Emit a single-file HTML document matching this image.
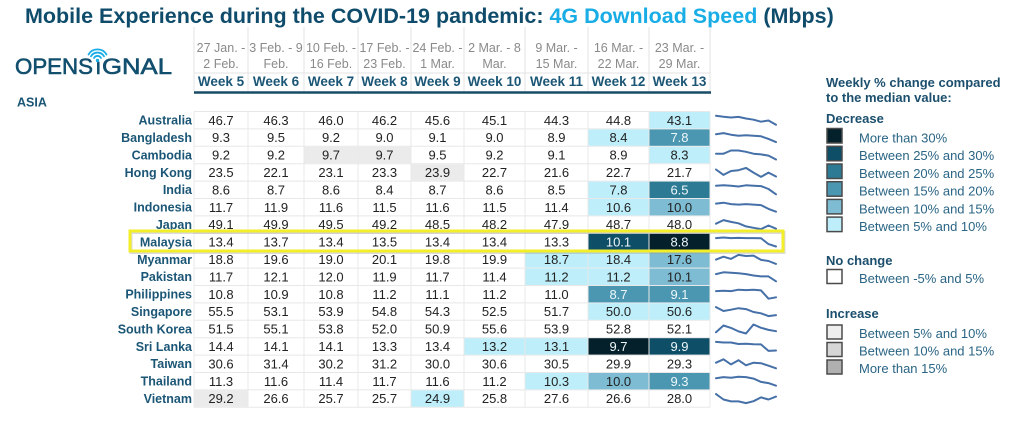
<!DOCTYPE html>
<html><head><meta charset="utf-8">
<style>
html,body{margin:0;padding:0;background:#fff;}
svg{display:block;}
.t{font-family:"Liberation Sans",sans-serif;}
.n{font-family:"Liberation Sans",sans-serif;font-size:13px;text-anchor:middle;fill:#222;}
.w{fill:#eef7fa;}
.c{font-family:"Liberation Sans",sans-serif;font-size:12.5px;font-weight:bold;text-anchor:end;fill:#1b5676;}
.d{font-family:"Liberation Sans",sans-serif;font-size:12.5px;text-anchor:middle;fill:#8a8a8a;}
.wk{font-family:"Liberation Sans",sans-serif;font-size:13.5px;font-weight:bold;text-anchor:middle;fill:#1b5676;}
.lg{font-family:"Liberation Sans",sans-serif;font-size:13px;fill:#2a6585;}
.lh{font-family:"Liberation Sans",sans-serif;font-size:13px;font-weight:bold;fill:#1b4f6d;}
.sp{fill:none;stroke:#4670a8;stroke-width:2;stroke-linejoin:round;stroke-linecap:round;}
.sq{stroke:#4a4a4a;stroke-width:1.5;}
</style></head>
<body>
<svg width="1024" height="421" viewBox="0 0 1024 421" xmlns="http://www.w3.org/2000/svg">
<rect width="1024" height="421" fill="#fff"/>
<!-- Title -->
<text x="25" y="23" class="t" font-size="21.5" font-weight="bold" fill="#0f4c6b">Mobile Experience during the COVID-19 pandemic: <tspan fill="#19ade6">4G Download Speed</tspan> (Mbps)</text>

<!-- Logo -->
<g fill="#124f6e" stroke="#124f6e" stroke-width="0.6">
<text x="15" y="74" class="t" font-size="22" textLength="78" lengthAdjust="spacingAndGlyphs">OPENS</text>
<text x="95.3" y="74" class="t" font-size="22">ı</text>
<text x="102" y="74" class="t" font-size="22" textLength="70" lengthAdjust="spacingAndGlyphs">GNAL</text>
</g>
<g fill="none" stroke="#19ade6" stroke-width="1.8" stroke-linecap="round">
<path d="M94.0 58.0 A4 4 0 0 1 101.0 58.0"/>
<path d="M91.0 56.3 A7.5 7.5 0 0 1 104.0 56.3"/>
<path d="M88.5 54.5 A10.5 10.5 0 0 1 106.5 54.5"/>
</g>
<circle cx="97.5" cy="60.5" r="1.7" fill="#19ade6"/>

<text x="17" y="106.5" class="t" font-size="12.5" font-weight="bold" fill="#1b5676">ASIA</text>

<!-- Header grid -->
<g stroke="#e3e3e3" stroke-width="1">
<line x1="194" y1="27" x2="194" y2="91"/>
<line x1="248" y1="27" x2="248" y2="91"/>
<line x1="304" y1="27" x2="304" y2="91"/>
<line x1="358" y1="27" x2="358" y2="91"/>
<line x1="411" y1="27" x2="411" y2="91"/>
<line x1="464" y1="27" x2="464" y2="91"/>
<line x1="525" y1="27" x2="525" y2="91"/>
<line x1="588" y1="27" x2="588" y2="91"/>
<line x1="649" y1="27" x2="649" y2="91"/>
<line x1="710" y1="27" x2="710" y2="91"/>
<line x1="194" y1="73" x2="710" y2="73"/>
</g>
<line x1="194" y1="92.5" x2="711" y2="92.5" stroke="#184b66" stroke-width="2.5"/>

<!-- Dates -->
<text x="221" y="52" class="d">27 Jan. -</text><text x="221" y="68" class="d">2 Feb.</text>
<text x="276" y="52" class="d">3 Feb. - 9</text><text x="276" y="68" class="d">Feb.</text>
<text x="331" y="52" class="d">10 Feb. -</text><text x="331" y="68" class="d">16 Feb.</text>
<text x="384.5" y="52" class="d">17 Feb. -</text><text x="384.5" y="68" class="d">23 Feb.</text>
<text x="437.5" y="52" class="d">24 Feb. -</text><text x="437.5" y="68" class="d">1 Mar.</text>
<text x="494.5" y="52" class="d">2 Mar. - 8</text><text x="494.5" y="68" class="d">Mar.</text>
<text x="556.5" y="52" class="d">9 Mar. -</text><text x="556.5" y="68" class="d">15 Mar.</text>
<text x="618.5" y="52" class="d">16 Mar. -</text><text x="618.5" y="68" class="d">22 Mar.</text>
<text x="679.5" y="52" class="d">23 Mar. -</text><text x="679.5" y="68" class="d">29 Mar.</text>

<text x="221" y="86" class="wk">Week 5</text>
<text x="276" y="86" class="wk">Week 6</text>
<text x="331" y="86" class="wk">Week 7</text>
<text x="384.5" y="86" class="wk">Week 8</text>
<text x="437.5" y="86" class="wk">Week 9</text>
<text x="494.5" y="86" class="wk">Week 10</text>
<text x="556.5" y="86" class="wk">Week 11</text>
<text x="618.5" y="86" class="wk">Week 12</text>
<text x="679.5" y="86" class="wk">Week 13</text>

<!-- Table grid -->
<g stroke="#e8e8e8" stroke-width="1">
<line x1="194" y1="111.5" x2="710" y2="111.5"/>
<line x1="194" y1="128.9" x2="710" y2="128.9"/>
<line x1="194" y1="146.3" x2="710" y2="146.3"/>
<line x1="194" y1="163.7" x2="710" y2="163.7"/>
<line x1="194" y1="181.1" x2="710" y2="181.1"/>
<line x1="194" y1="198.5" x2="710" y2="198.5"/>
<line x1="194" y1="215.9" x2="710" y2="215.9"/>
<line x1="194" y1="233.3" x2="710" y2="233.3"/>
<line x1="194" y1="250.7" x2="710" y2="250.7"/>
<line x1="194" y1="268.1" x2="710" y2="268.1"/>
<line x1="194" y1="285.5" x2="710" y2="285.5"/>
<line x1="194" y1="302.9" x2="710" y2="302.9"/>
<line x1="194" y1="320.3" x2="710" y2="320.3"/>
<line x1="194" y1="337.7" x2="710" y2="337.7"/>
<line x1="194" y1="355.1" x2="710" y2="355.1"/>
<line x1="194" y1="372.5" x2="710" y2="372.5"/>
<line x1="194" y1="389.9" x2="710" y2="389.9"/>
<line x1="194" y1="407.3" x2="710" y2="407.3"/>
<line x1="194" y1="111.5" x2="194" y2="407.3"/>
<line x1="248" y1="111.5" x2="248" y2="407.3"/>
<line x1="304" y1="111.5" x2="304" y2="407.3"/>
<line x1="358" y1="111.5" x2="358" y2="407.3"/>
<line x1="411" y1="111.5" x2="411" y2="407.3"/>
<line x1="464" y1="111.5" x2="464" y2="407.3"/>
<line x1="525" y1="111.5" x2="525" y2="407.3"/>
<line x1="588" y1="111.5" x2="588" y2="407.3"/>
<line x1="649" y1="111.5" x2="649" y2="407.3"/>
<line x1="710" y1="111.5" x2="710" y2="407.3"/>
</g>

<!-- Colored cells -->
<g>
<rect x="649.5" y="112" width="60" height="16.4" fill="#bdeefa"/>
<rect x="588.5" y="129.4" width="60" height="16.4" fill="#bdeefa"/>
<rect x="649.5" y="129.4" width="60" height="16.4" fill="#4b97b1"/>
<rect x="304.5" y="146.8" width="53" height="16.4" fill="#ebebeb"/>
<rect x="358.5" y="146.8" width="52" height="16.4" fill="#ebebeb"/>
<rect x="649.5" y="146.8" width="60" height="16.4" fill="#bdeefa"/>
<rect x="411.5" y="164.2" width="52" height="16.4" fill="#ebebeb"/>
<rect x="588.5" y="181.6" width="60" height="16.4" fill="#bdeefa"/>
<rect x="649.5" y="181.6" width="60" height="16.4" fill="#2c7a93"/>
<rect x="588.5" y="199" width="60" height="16.4" fill="#bdeefa"/>
<rect x="649.5" y="199" width="60" height="16.4" fill="#7dbcd3"/>
<rect x="588.5" y="233.8" width="60" height="16.4" fill="#0e4e67"/>
<rect x="649.5" y="233.8" width="60" height="16.4" fill="#03202b"/>
<rect x="525.5" y="251.2" width="62" height="16.4" fill="#bdeefa"/>
<rect x="588.5" y="251.2" width="60" height="16.4" fill="#bdeefa"/>
<rect x="649.5" y="251.2" width="60" height="16.4" fill="#7dbcd3"/>
<rect x="525.5" y="268.6" width="62" height="16.4" fill="#bdeefa"/>
<rect x="588.5" y="268.6" width="60" height="16.4" fill="#bdeefa"/>
<rect x="649.5" y="268.6" width="60" height="16.4" fill="#7dbcd3"/>
<rect x="588.5" y="286" width="60" height="16.4" fill="#4b97b1"/>
<rect x="649.5" y="286" width="60" height="16.4" fill="#4b97b1"/>
<rect x="588.5" y="303.4" width="60" height="16.4" fill="#bdeefa"/>
<rect x="649.5" y="303.4" width="60" height="16.4" fill="#bdeefa"/>
<rect x="464.5" y="338.2" width="60" height="16.4" fill="#bdeefa"/>
<rect x="525.5" y="338.2" width="62" height="16.4" fill="#bdeefa"/>
<rect x="588.5" y="338.2" width="60" height="16.4" fill="#03202b"/>
<rect x="649.5" y="338.2" width="60" height="16.4" fill="#0e4e67"/>
<rect x="525.5" y="373" width="62" height="16.4" fill="#bdeefa"/>
<rect x="588.5" y="373" width="60" height="16.4" fill="#7dbcd3"/>
<rect x="649.5" y="373" width="60" height="16.4" fill="#4b97b1"/>
<rect x="194.5" y="390.4" width="53" height="16.4" fill="#ebebeb"/>
<rect x="411.5" y="390.4" width="52" height="16.4" fill="#bdeefa"/>
</g>

<!-- Country names -->
<text x="192" y="124.6" class="c">Australia</text>
<text x="192" y="142" class="c">Bangladesh</text>
<text x="192" y="159.4" class="c">Cambodia</text>
<text x="192" y="176.8" class="c">Hong Kong</text>
<text x="192" y="194.2" class="c">India</text>
<text x="192" y="211.6" class="c">Indonesia</text>
<text x="192" y="229" class="c">Japan</text>
<text x="192" y="246.4" class="c">Malaysia</text>
<text x="192" y="263.8" class="c">Myanmar</text>
<text x="192" y="281.2" class="c">Pakistan</text>
<text x="192" y="298.6" class="c">Philippines</text>
<text x="192" y="316" class="c">Singapore</text>
<text x="192" y="333.4" class="c">South Korea</text>
<text x="192" y="350.8" class="c">Sri Lanka</text>
<text x="192" y="368.2" class="c">Taiwan</text>
<text x="192" y="385.6" class="c">Thailand</text>
<text x="192" y="403" class="c">Vietnam</text>

<!-- Numbers -->
<g>
<text x="221" y="124.8" class="n">46.7</text><text x="276" y="124.8" class="n">46.3</text><text x="331" y="124.8" class="n">46.0</text><text x="384.5" y="124.8" class="n">46.2</text><text x="437.5" y="124.8" class="n">45.6</text><text x="494.5" y="124.8" class="n">45.1</text><text x="556.5" y="124.8" class="n">44.3</text><text x="618.5" y="124.8" class="n">44.8</text><text x="679.5" y="124.8" class="n">43.1</text>

<text x="221" y="142.2" class="n">9.3</text><text x="276" y="142.2" class="n">9.5</text><text x="331" y="142.2" class="n">9.2</text><text x="384.5" y="142.2" class="n">9.0</text><text x="437.5" y="142.2" class="n">9.1</text><text x="494.5" y="142.2" class="n">9.0</text><text x="556.5" y="142.2" class="n">8.9</text><text x="618.5" y="142.2" class="n">8.4</text><text x="679.5" y="142.2" class="n w">7.8</text>

<text x="221" y="159.6" class="n">9.2</text><text x="276" y="159.6" class="n">9.2</text><text x="331" y="159.6" class="n">9.7</text><text x="384.5" y="159.6" class="n">9.7</text><text x="437.5" y="159.6" class="n">9.5</text><text x="494.5" y="159.6" class="n">9.2</text><text x="556.5" y="159.6" class="n">9.1</text><text x="618.5" y="159.6" class="n">8.9</text><text x="679.5" y="159.6" class="n">8.3</text>

<text x="221" y="177" class="n">23.5</text><text x="276" y="177" class="n">22.1</text><text x="331" y="177" class="n">23.1</text><text x="384.5" y="177" class="n">23.3</text><text x="437.5" y="177" class="n">23.9</text><text x="494.5" y="177" class="n">22.7</text><text x="556.5" y="177" class="n">21.6</text><text x="618.5" y="177" class="n">22.7</text><text x="679.5" y="177" class="n">21.7</text>

<text x="221" y="194.4" class="n">8.6</text><text x="276" y="194.4" class="n">8.7</text><text x="331" y="194.4" class="n">8.6</text><text x="384.5" y="194.4" class="n">8.4</text><text x="437.5" y="194.4" class="n">8.7</text><text x="494.5" y="194.4" class="n">8.6</text><text x="556.5" y="194.4" class="n">8.5</text><text x="618.5" y="194.4" class="n">7.8</text><text x="679.5" y="194.4" class="n w">6.5</text>

<text x="221" y="211.8" class="n">11.7</text><text x="276" y="211.8" class="n">11.9</text><text x="331" y="211.8" class="n">11.6</text><text x="384.5" y="211.8" class="n">11.5</text><text x="437.5" y="211.8" class="n">11.6</text><text x="494.5" y="211.8" class="n">11.5</text><text x="556.5" y="211.8" class="n">11.4</text><text x="618.5" y="211.8" class="n">10.6</text><text x="679.5" y="211.8" class="n">10.0</text>

<text x="221" y="229.2" class="n">49.1</text><text x="276" y="229.2" class="n">49.9</text><text x="331" y="229.2" class="n">49.5</text><text x="384.5" y="229.2" class="n">49.2</text><text x="437.5" y="229.2" class="n">48.5</text><text x="494.5" y="229.2" class="n">48.2</text><text x="556.5" y="229.2" class="n">47.9</text><text x="618.5" y="229.2" class="n">48.7</text><text x="679.5" y="229.2" class="n">48.0</text>

<text x="221" y="246.6" class="n">13.4</text><text x="276" y="246.6" class="n">13.7</text><text x="331" y="246.6" class="n">13.4</text><text x="384.5" y="246.6" class="n">13.5</text><text x="437.5" y="246.6" class="n">13.4</text><text x="494.5" y="246.6" class="n">13.4</text><text x="556.5" y="246.6" class="n">13.3</text><text x="618.5" y="246.6" class="n w">10.1</text><text x="679.5" y="246.6" class="n w">8.8</text>

<text x="221" y="264" class="n">18.8</text><text x="276" y="264" class="n">19.6</text><text x="331" y="264" class="n">19.0</text><text x="384.5" y="264" class="n">20.1</text><text x="437.5" y="264" class="n">19.8</text><text x="494.5" y="264" class="n">19.9</text><text x="556.5" y="264" class="n">18.7</text><text x="618.5" y="264" class="n">18.4</text><text x="679.5" y="264" class="n">17.6</text>

<text x="221" y="281.4" class="n">11.7</text><text x="276" y="281.4" class="n">12.1</text><text x="331" y="281.4" class="n">12.0</text><text x="384.5" y="281.4" class="n">11.9</text><text x="437.5" y="281.4" class="n">11.7</text><text x="494.5" y="281.4" class="n">11.4</text><text x="556.5" y="281.4" class="n">11.2</text><text x="618.5" y="281.4" class="n">11.2</text><text x="679.5" y="281.4" class="n">10.1</text>

<text x="221" y="298.8" class="n">10.8</text><text x="276" y="298.8" class="n">10.9</text><text x="331" y="298.8" class="n">10.8</text><text x="384.5" y="298.8" class="n">11.2</text><text x="437.5" y="298.8" class="n">11.1</text><text x="494.5" y="298.8" class="n">11.2</text><text x="556.5" y="298.8" class="n">11.0</text><text x="618.5" y="298.8" class="n w">8.7</text><text x="679.5" y="298.8" class="n w">9.1</text>

<text x="221" y="316.2" class="n">55.5</text><text x="276" y="316.2" class="n">53.1</text><text x="331" y="316.2" class="n">53.9</text><text x="384.5" y="316.2" class="n">54.8</text><text x="437.5" y="316.2" class="n">54.3</text><text x="494.5" y="316.2" class="n">52.5</text><text x="556.5" y="316.2" class="n">51.7</text><text x="618.5" y="316.2" class="n">50.0</text><text x="679.5" y="316.2" class="n">50.6</text>

<text x="221" y="333.6" class="n">51.5</text><text x="276" y="333.6" class="n">55.1</text><text x="331" y="333.6" class="n">53.8</text><text x="384.5" y="333.6" class="n">52.0</text><text x="437.5" y="333.6" class="n">50.9</text><text x="494.5" y="333.6" class="n">55.6</text><text x="556.5" y="333.6" class="n">53.9</text><text x="618.5" y="333.6" class="n">52.8</text><text x="679.5" y="333.6" class="n">52.1</text>

<text x="221" y="351" class="n">14.4</text><text x="276" y="351" class="n">14.1</text><text x="331" y="351" class="n">14.1</text><text x="384.5" y="351" class="n">13.3</text><text x="437.5" y="351" class="n">13.4</text><text x="494.5" y="351" class="n">13.2</text><text x="556.5" y="351" class="n">13.1</text><text x="618.5" y="351" class="n w">9.7</text><text x="679.5" y="351" class="n w">9.9</text>

<text x="221" y="368.4" class="n">30.6</text><text x="276" y="368.4" class="n">31.4</text><text x="331" y="368.4" class="n">30.2</text><text x="384.5" y="368.4" class="n">31.2</text><text x="437.5" y="368.4" class="n">30.0</text><text x="494.5" y="368.4" class="n">30.6</text><text x="556.5" y="368.4" class="n">30.5</text><text x="618.5" y="368.4" class="n">29.9</text><text x="679.5" y="368.4" class="n">29.3</text>

<text x="221" y="385.8" class="n">11.3</text><text x="276" y="385.8" class="n">11.6</text><text x="331" y="385.8" class="n">11.4</text><text x="384.5" y="385.8" class="n">11.7</text><text x="437.5" y="385.8" class="n">11.6</text><text x="494.5" y="385.8" class="n">11.2</text><text x="556.5" y="385.8" class="n">10.3</text><text x="618.5" y="385.8" class="n">10.0</text><text x="679.5" y="385.8" class="n w">9.3</text>

<text x="221" y="403.2" class="n">29.2</text><text x="276" y="403.2" class="n">26.6</text><text x="331" y="403.2" class="n">25.7</text><text x="384.5" y="403.2" class="n">25.7</text><text x="437.5" y="403.2" class="n">24.9</text><text x="494.5" y="403.2" class="n">25.8</text><text x="556.5" y="403.2" class="n">27.6</text><text x="618.5" y="403.2" class="n">26.6</text><text x="679.5" y="403.2" class="n">28.0</text>
</g>

<!-- Sparklines -->
<g>
<polyline class="sp" points="716,115.7 723.5,116.7 731,117.5 738.5,116.9 746,118.5 753.5,119.7 761,121.7 768.5,120.5 776,124.7"/>
<polyline class="sp" points="716,134.2 723.5,133.1 731,134.7 738.5,135.7 746,135.2 753.5,135.7 761,136.3 768.5,138.9 776,142.1"/>
<polyline class="sp" points="716,153.7 723.5,153.7 731,150.5 738.5,150.5 746,151.8 753.5,153.7 761,154.4 768.5,155.6 776,159.5"/>
<polyline class="sp" points="716,169.5 723.5,174.9 731,171.0 738.5,170.2 746,167.9 753.5,172.6 761,176.9 768.5,172.6 776,176.5"/>
<polyline class="sp" points="716,185.7 723.5,185.3 731,185.7 738.5,186.5 746,185.3 753.5,185.7 761,186.1 768.5,189.0 776,194.3"/>
<polyline class="sp" points="716,203.6 723.5,202.7 731,204.1 738.5,204.6 746,204.1 753.5,204.6 761,205.1 768.5,208.9 776,211.7"/>
<polyline class="sp" points="716,223.7 723.5,220.1 731,221.9 738.5,223.3 746,226.4 753.5,227.8 761,229.1 768.5,225.5 776,228.7"/>
<polyline class="sp" points="716,238.1 723.5,237.5 731,238.1 738.5,237.9 746,238.1 753.5,238.1 761,238.2 768.5,244.1 776,246.5"/>
<polyline class="sp" points="716,259.6 723.5,256.7 731,258.9 738.5,254.9 746,256.0 753.5,255.6 761,259.9 768.5,261.0 776,263.9"/>
<polyline class="sp" points="716,274.1 723.5,272.3 731,272.8 738.5,273.2 746,274.1 753.5,275.5 761,276.4 768.5,276.4 776,281.3"/>
<polyline class="sp" points="716,291.1 723.5,290.8 731,291.1 738.5,289.7 746,290.1 753.5,289.7 761,290.4 768.5,298.7 776,297.3"/>
<polyline class="sp" points="716,307.1 723.5,311.0 731,309.7 738.5,308.2 746,309.1 753.5,312.0 761,313.3 768.5,316.1 776,315.1"/>
<polyline class="sp" points="716,332.3 723.5,325.5 731,327.9 738.5,331.4 746,333.5 753.5,324.5 761,327.8 768.5,329.9 776,331.2"/>
<polyline class="sp" points="716,341.9 723.5,342.5 731,342.5 738.5,344.0 746,343.8 753.5,344.2 761,344.4 768.5,350.9 776,350.5"/>
<polyline class="sp" points="716,362.7 723.5,359.3 731,364.4 738.5,360.2 746,365.3 753.5,362.7 761,363.2 768.5,365.7 776,368.3"/>
<polyline class="sp" points="716,378.2 723.5,377.1 731,377.8 738.5,376.7 746,377.1 753.5,378.6 761,381.9 768.5,383.1 776,385.7"/>
<polyline class="sp" points="716,394.1 723.5,399.5 731,401.4 738.5,401.4 746,403.1 753.5,401.2 761,397.4 768.5,399.5 776,396.6"/>
</g>

<!-- Highlight box -->
<rect x="131" y="232.5" width="653" height="20" fill="none" stroke="#999" stroke-opacity="0.35" stroke-width="3"/>
<rect x="130" y="231" width="653" height="20" fill="none" stroke="#f2ee2a" stroke-width="3"/>

<!-- Legend -->
<text x="826" y="87" class="lh">Weekly % change compared</text>
<text x="826" y="102" class="lh">to the median value:</text>
<text x="826" y="123" class="lh">Decrease</text>

<rect x="827" y="128.5" width="15" height="14.5" fill="#03202b" class="sq"/>
<text x="859" y="142.5" class="lg">More than 30%</text>
<rect x="827" y="146.3" width="15" height="14.5" fill="#0e4e67" class="sq"/>
<text x="859" y="160.2" class="lg">Between 25% and 30%</text>
<rect x="827" y="164" width="15" height="14.5" fill="#2c7a93" class="sq"/>
<text x="859" y="177.9" class="lg">Between 20% and 25%</text>
<rect x="827" y="181.7" width="15" height="14.5" fill="#4b97b1" class="sq"/>
<text x="859" y="195.6" class="lg">Between 15% and 20%</text>
<rect x="827" y="199.4" width="15" height="14.5" fill="#7dbcd3" class="sq"/>
<text x="859" y="213.3" class="lg">Between 10% and 15%</text>
<rect x="827" y="217.1" width="15" height="14.5" fill="#bdeefa" class="sq"/>
<text x="859" y="231" class="lg">Between 5% and 10%</text>

<text x="826" y="265" class="lh">No change</text>
<rect x="827" y="269.5" width="15" height="14" fill="#ffffff" class="sq"/>
<text x="859" y="283" class="lg">Between -5% and 5%</text>

<text x="826" y="318" class="lh">Increase</text>
<rect x="827" y="325" width="15" height="14" fill="#eeeeee" class="sq"/>
<text x="859" y="338" class="lg">Between 5% and 10%</text>
<rect x="827" y="342.5" width="15" height="14" fill="#d6d6d6" class="sq"/>
<text x="859" y="355.5" class="lg">Between 10% and 15%</text>
<rect x="827" y="360" width="15" height="14" fill="#b0b0b0" class="sq"/>
<text x="859" y="373" class="lg">More than 15%</text>
</svg>
</body></html>
